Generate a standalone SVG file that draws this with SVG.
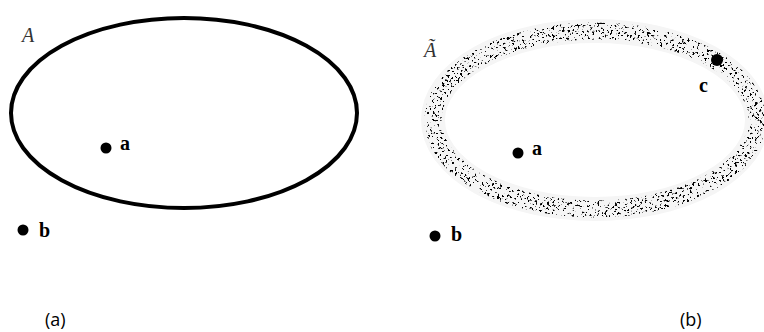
<svg xmlns="http://www.w3.org/2000/svg" width="764" height="332" viewBox="0 0 764 332">
<style>
.lbl{font-family:"Liberation Serif",serif;font-weight:bold;font-size:20px;fill:#000}
.set{font-family:"Liberation Serif",serif;font-style:italic;font-size:20px;fill:#333}
.cap{font-family:"Open Sans","Liberation Sans",sans-serif;font-size:18px;fill:#000}
.dot{fill:#000}
</style>
<defs>
<filter id="speckle" x="-5%" y="-10%" width="110%" height="120%">
<feTurbulence type="fractalNoise" baseFrequency="0.4" numOctaves="2" seed="7" result="n"/>
<feColorMatrix in="n" type="matrix" values="0 0 0 0 0  0 0 0 0 0  0 0 0 0 0  16 0 0 0 -9.6" result="m"/>
<feComposite in="SourceGraphic" in2="m" operator="in"/>
</filter>
</defs>
<rect width="764" height="332" fill="#fff"/>
<g id="setA">
<ellipse cx="184" cy="113" rx="173" ry="95" fill="none" stroke="#000" stroke-width="4"/>
<text class="set" x="22" y="42">A</text>
</g>
<g id="setA-fuzzy">
<ellipse cx="595" cy="120" rx="162" ry="89" fill="none" stroke="#f5f5f5" stroke-width="24"/>
<ellipse cx="595" cy="120" rx="162" ry="89" fill="none" stroke="#000" stroke-width="17" filter="url(#speckle)"/>
<text class="set" x="424" y="57">Ã</text>
</g>
<g id="a-left"><circle class="dot" cx="106" cy="148" r="5.5"/><text class="lbl" x="120" y="150">a</text></g>
<g id="b-left"><circle class="dot" cx="23" cy="230" r="5.5"/><text class="lbl" x="39" y="237">b</text></g>
<g id="a-right"><circle class="dot" cx="518" cy="153" r="5.5"/><text class="lbl" x="532" y="155">a</text></g>
<g id="b-right"><circle class="dot" cx="435" cy="236" r="5.5"/><text class="lbl" x="451" y="241">b</text></g>
<g id="c-right"><circle class="dot" cx="717" cy="60" r="6"/><text class="lbl" x="699" y="92">c</text></g>
<g id="connectors"/>
<text class="cap" x="45" y="326">(a)</text>
<text class="cap" x="680" y="326">(b)</text>
</svg>
